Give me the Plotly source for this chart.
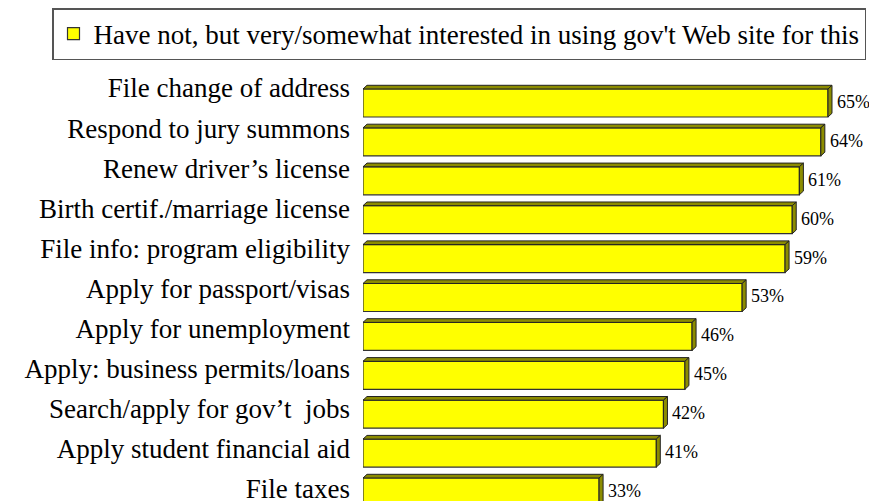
import plotly.graph_objects as go

categories = [
    "File change of address",
    "Respond to jury summons",
    "Renew driver\u2019s license",
    "Birth certif./marriage license",
    "File info: program eligibility",
    "Apply for passport/visas",
    "Apply for unemployment",
    "Apply: business permits/loans",
    "Search/apply for gov\u2019t  jobs",
    "Apply student financial aid",
    "File taxes",
]
values = [65, 64, 61, 60, 59, 53, 46, 45, 42, 41, 33]
series_name = "Have not, but very/somewhat interested in using gov't Web site for this"

FONT = "Liberation Serif, Times New Roman, serif"
positions = list(range(len(categories)))
half = 0.36       # half bar thickness (category units)
dx = 0.56         # 3D depth in x (data units)
dy = 0.095        # 3D depth in y (category units)

fig = go.Figure()
fig.add_trace(go.Bar(
    x=values, y=positions, orientation="h", name=series_name,
    width=2 * half,
    marker=dict(color="#FFFF00", line=dict(color="#333333", width=1.2)),
    showlegend=True,
))
# invisible helper trace so the category-label axis is drawn
fig.add_trace(go.Scatter(
    x=[0] * len(positions), y=positions, yaxis="y2", mode="none",
    showlegend=False, hoverinfo="skip",
))

shapes = []
for p, v in zip(positions, values):
    top = p - half
    bot = p + half
    shapes.append(dict(
        type="path", xref="x", yref="y", layer="above",
        path=f"M 0,{top} L {v},{top} L {v+dx},{top-dy} L {dx},{top-dy} Z",
        fillcolor="#8C8C00", line=dict(color="#222222", width=1)))
    shapes.append(dict(
        type="path", xref="x", yref="y", layer="above",
        path=f"M {v},{top} L {v+dx},{top-dy} L {v+dx},{bot-dy} L {v},{bot} Z",
        fillcolor="#8C8C00", line=dict(color="#222222", width=1)))

annotations = []
for p, v in zip(positions, values):
    annotations.append(dict(
        x=v, y=p, xref="x", yref="y", text=f"{v}%", showarrow=False,
        xanchor="left", yanchor="middle", xshift=7, yshift=1,
        font=dict(family=FONT, size=18, color="black")))

fig.update_layout(
    width=877, height=501,
    margin=dict(l=355, r=0, t=52, b=0, autoexpand=False),
    paper_bgcolor="white", plot_bgcolor="white",
    shapes=shapes, annotations=annotations,
    font=dict(family=FONT, color="black"),
    xaxis=dict(range=[0, 72.97], visible=False, showgrid=False, zeroline=False,
               automargin=False),
    yaxis=dict(
        range=[10.437, -1.105], showticklabels=False,
        showgrid=False, zeroline=False, showline=False, ticks="",
        automargin=False,
    ),
    yaxis2=dict(
        overlaying="y", anchor="x", side="left",
        range=[10.499, -0.698], tickvals=positions, ticktext=categories,
        tickfont=dict(family=FONT, size=27, color="black"),
        showgrid=False, zeroline=False, showline=False, ticks="",
        ticklabelstandoff=12, automargin=False,
    ),
    legend=dict(
        xref="container", yref="container", x=858 / 877, y=1,
        xanchor="right", yanchor="top",
        bordercolor="#555555", borderwidth=1.5, bgcolor="white",
        font=dict(family=FONT, size=27, color="black"),
        itemwidth=30,
    ),
)

fig.write_html("out.html")
